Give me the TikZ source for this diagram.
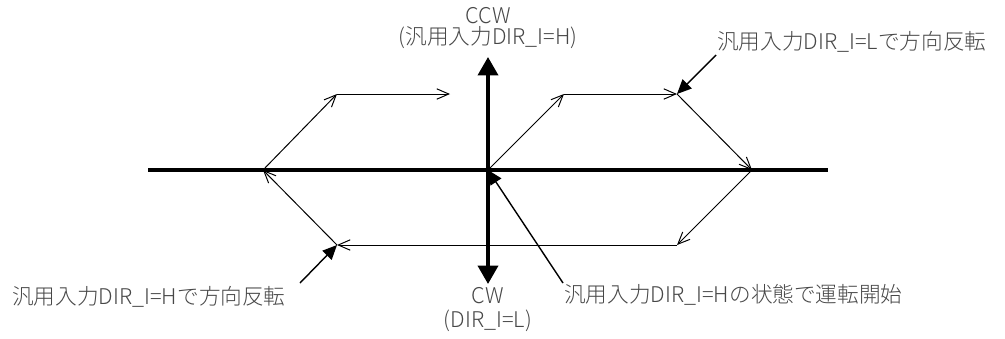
\documentclass[tikz,border=0pt]{standalone}
\usepackage{fontspec}
\setmainfont{Noto Sans CJK JP Light}
\usepackage{tikz}
\usetikzlibrary{arrows.meta, calc, positioning}
\tikzset{
  axis/.style    ={-{Triangle[length=4.6mm, width=5mm]}, line width=2.6pt},
  axisline/.style={line width=2.6pt},
  move/.style    ={-{Straight Barb[length=3mm, width=2.6mm]}, line width=0.7pt},
  callout/.style ={-{Triangle[length=3.6mm, width=3.2mm]}, line width=1pt},
  lbl/.style     ={font=\fontsize{15.4}{17}\selectfont, text=black!72, inner sep=0pt},
}

\begin{document}
\begin{tikzpicture}[x=0.025cm, y=-0.025cm]
  \useasboundingbox (0,0) rectangle (1005,338);

  % axes
  \coordinate (xl) at (148,170);
  \coordinate (xr) at (828,170);
  \coordinate (o)  at (488,170);
  \coordinate (yt) at (488,57);
  \coordinate (yb) at (488,284);
  \draw[axisline] (xl) -- (xr);
  \draw[axis] (o) -- (yt);
  \draw[axis] (o) -- (yb);

  % motion path
  \coordinate (p1) at (564,94);
  \coordinate (p2) at (677,94);
  \coordinate (p3) at (752,170);
  \coordinate (p4) at (677,245);
  \coordinate (p5) at (337,245);
  \coordinate (p6) at (263,170);
  \coordinate (p7) at (337,94);
  \coordinate (p8) at (450,94);
  \draw[move] (o) -- (p1);
  \draw[move] (p1) -- (p2);
  \draw[move] (p2) -- (p3);
  \draw[move] (p3) -- (p4);
  \draw[move] (p4) -- (p5);
  \draw[move] (p5) -- (p6);
  \draw[move] (p6) -- (p7);
  \draw[move] (p7) -- (p8);

  % direction labels
  \node[lbl] (ccw)  at (488,16)  {CCW};
  \node[lbl] (ccwi) at (488,38)  {(汎用入力DIR\_I=H)};
  \node[lbl] (cw)   at (488,296) {CW};
  \node[lbl] (cwi)  at (488,321) {(DIR\_I=L)};

  % callouts
  \node[lbl, anchor=west] (revl)  at (717,42)  {汎用入力DIR\_I=Lで方向反転};
  \node[lbl, anchor=west] (revh)  at (12,297)  {汎用入力DIR\_I=Hで方向反転};
  \node[lbl, anchor=west] (start) at (564,295) {汎用入力DIR\_I=Hの状態で運転開始};
  \coordinate (c1) at (716,55);
  \coordinate (c2) at (300,283);
  \coordinate (c3) at (563,283);
  \draw[callout] (c1) -- (p2);
  \draw[callout] (c2) -- (p5);
  \draw[callout] (c3) -- (o);
\end{tikzpicture}
\end{document}
